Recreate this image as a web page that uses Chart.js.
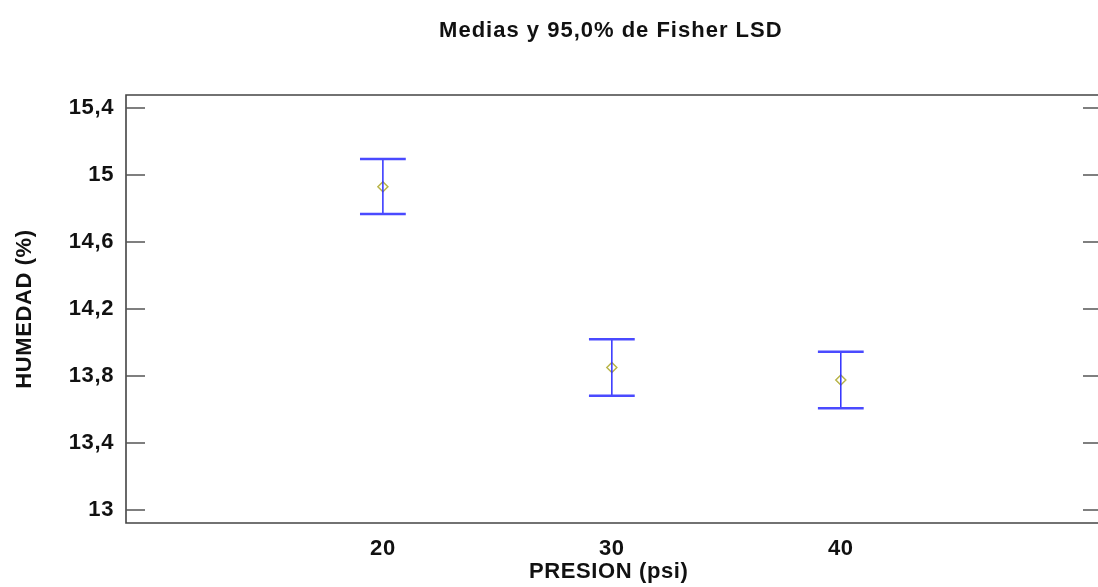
<!DOCTYPE html>
<html>
<head>
<meta charset="utf-8">
<script src="https://cdn.jsdelivr.net/npm/chart.js@4/dist/chart.umd.min.js"></script>
<style>
  html, body { margin: 0; padding: 0; background: #fff; overflow: hidden; }
  #wrap { width: 1098px; height: 587px; position: relative; }
</style>
</head>
<body>
<div id="wrap"><canvas id="lsd-chart"></canvas></div>
<script>
// datos
const presion = [20, 30, 40];
const medias = [14.93, 13.851, 13.776];
const limInf = [14.767, 13.682, 13.607];
const limSup = [15.095, 14.020, 13.945];
const yTicks = [13, 13.4, 13.8, 14.2, 14.6, 15, 15.4];
const xTicks = [20, 30, 40];

const titulo = "Medias y 95,0% de Fisher LSD";
const fuente = "'Liberation Sans', Arial, sans-serif";

function coma(v) {
  return String(v).replace(".", ",");
}

// titulo centrado (el marco real sigue un poco fuera a la derecha)
const tituloPlugin = {
  id: "tituloPlugin",
  beforeDraw(chart) {
    try { chart.ctx.letterSpacing = "0.6px"; } catch (e) {}
  },
  afterDraw(chart) {
    const ctx = chart.ctx;
    ctx.save();
    try { ctx.letterSpacing = "1px"; } catch (e) {}
    ctx.font = "bold 22px " + fuente;
    ctx.fillStyle = "#111";
    ctx.textAlign = "center";
    ctx.textBaseline = "middle";
    ctx.fillText(titulo, chart.scales.x.getPixelForValue(30) - 1, 31);
    ctx.restore();
  }
};

// marco, marcas de los ejes y barras de error
const barrasPlugin = {
  id: "barrasPlugin",
  afterDatasetsDraw(chart) {
    const ctx = chart.ctx;
    const a = chart.chartArea;
    const xs = chart.scales.x;
    const ys = chart.scales.y;
    const derecha = chart.width + 2;
    ctx.save();

    // marco sin lado derecho (queda fuera de la imagen)
    ctx.strokeStyle = "#444";
    ctx.lineWidth = 1.6;
    ctx.beginPath();
    ctx.moveTo(derecha, a.top);
    ctx.lineTo(a.left, a.top);
    ctx.lineTo(a.left, a.bottom);
    ctx.lineTo(derecha, a.bottom);
    ctx.stroke();

    // marcas izquierda y derecha
    ctx.strokeStyle = "#555";
    ctx.lineWidth = 1.5;
    yTicks.forEach(v => {
      const y = ys.getPixelForValue(v);
      ctx.beginPath();
      ctx.moveTo(a.left, y);
      ctx.lineTo(a.left + 19, y);
      ctx.moveTo(derecha, y);
      ctx.lineTo(derecha - 17, y);
      ctx.stroke();
    });

    // barras LSD
    presion.forEach((p, i) => {
      const x = xs.getPixelForValue(p);
      const xl = xs.getPixelForValue(p - 1);
      const xr = xs.getPixelForValue(p + 1);
      const yt = ys.getPixelForValue(limSup[i]);
      const yb = ys.getPixelForValue(limInf[i]);
      ctx.strokeStyle = "#3030ff";
      ctx.lineWidth = 1.5;
      ctx.beginPath();
      ctx.moveTo(x, yt);
      ctx.lineTo(x, yb);
      ctx.stroke();
      ctx.strokeStyle = "#4a4aff";
      ctx.lineWidth = 2.5;
      ctx.beginPath();
      ctx.moveTo(xl, yt);
      ctx.lineTo(xr, yt);
      ctx.moveTo(xl, yb);
      ctx.lineTo(xr, yb);
      ctx.stroke();
    });
    ctx.restore();
  }
};

new Chart(document.getElementById("lsd-chart"), {
  type: "scatter",
  data: {
    datasets: [{
      label: "Medias",
      data: presion.map((p, i) => ({ x: p, y: medias[i] })),
      pointStyle: "rectRot",
      pointRadius: 5,
      pointHoverRadius: 5,
      borderWidth: 1.5,
      borderColor: "#b8b448",
      backgroundColor: "rgba(0,0,0,0)"
    }]
  },
  options: {
    responsive: true,
    maintainAspectRatio: false,
    animation: false,
    layout: { padding: { top: 95, right: 0, left: 0, bottom: 0 } },
    plugins: {
      legend: { display: false },
      tooltip: { enabled: false },
      title: { display: false }
    },
    scales: {
      x: {
        type: "linear",
        min: 8.78,
        max: 50.95,
        grid: { display: false, drawTicks: false },
        border: { display: false },
        afterBuildTicks: s => { s.ticks = xTicks.map(v => ({ value: v })); },
        afterFit: s => { s.height = 64; },
        ticks: {
          padding: 13,
          color: "#111",
          font: { family: fuente, size: 22, weight: "bold" },
          callback: v => coma(v)
        },
        title: {
          display: true,
          text: "PRESION (psi)",
          color: "#111",
          padding: { top: 0, bottom: 2 },
          font: { family: fuente, size: 22, weight: "bold" }
        }
      },
      y: {
        min: 12.9224,
        max: 15.4776,
        grid: { display: false, drawTicks: false },
        border: { display: false },
        afterBuildTicks: s => { s.ticks = yTicks.map(v => ({ value: v })); },
        afterFit: s => { s.width = 126; },
        ticks: {
          padding: 12,
          color: "#111",
          font: { family: fuente, size: 22, weight: "bold" },
          callback: v => coma(v)
        },
        title: {
          display: true,
          text: "HUMEDAD (%)",
          color: "#111",
          padding: { top: 12, bottom: 0 },
          font: { family: fuente, size: 22, weight: "bold" }
        }
      }
    }
  },
  plugins: [tituloPlugin, barrasPlugin]
});
</script>
</body>
</html>
